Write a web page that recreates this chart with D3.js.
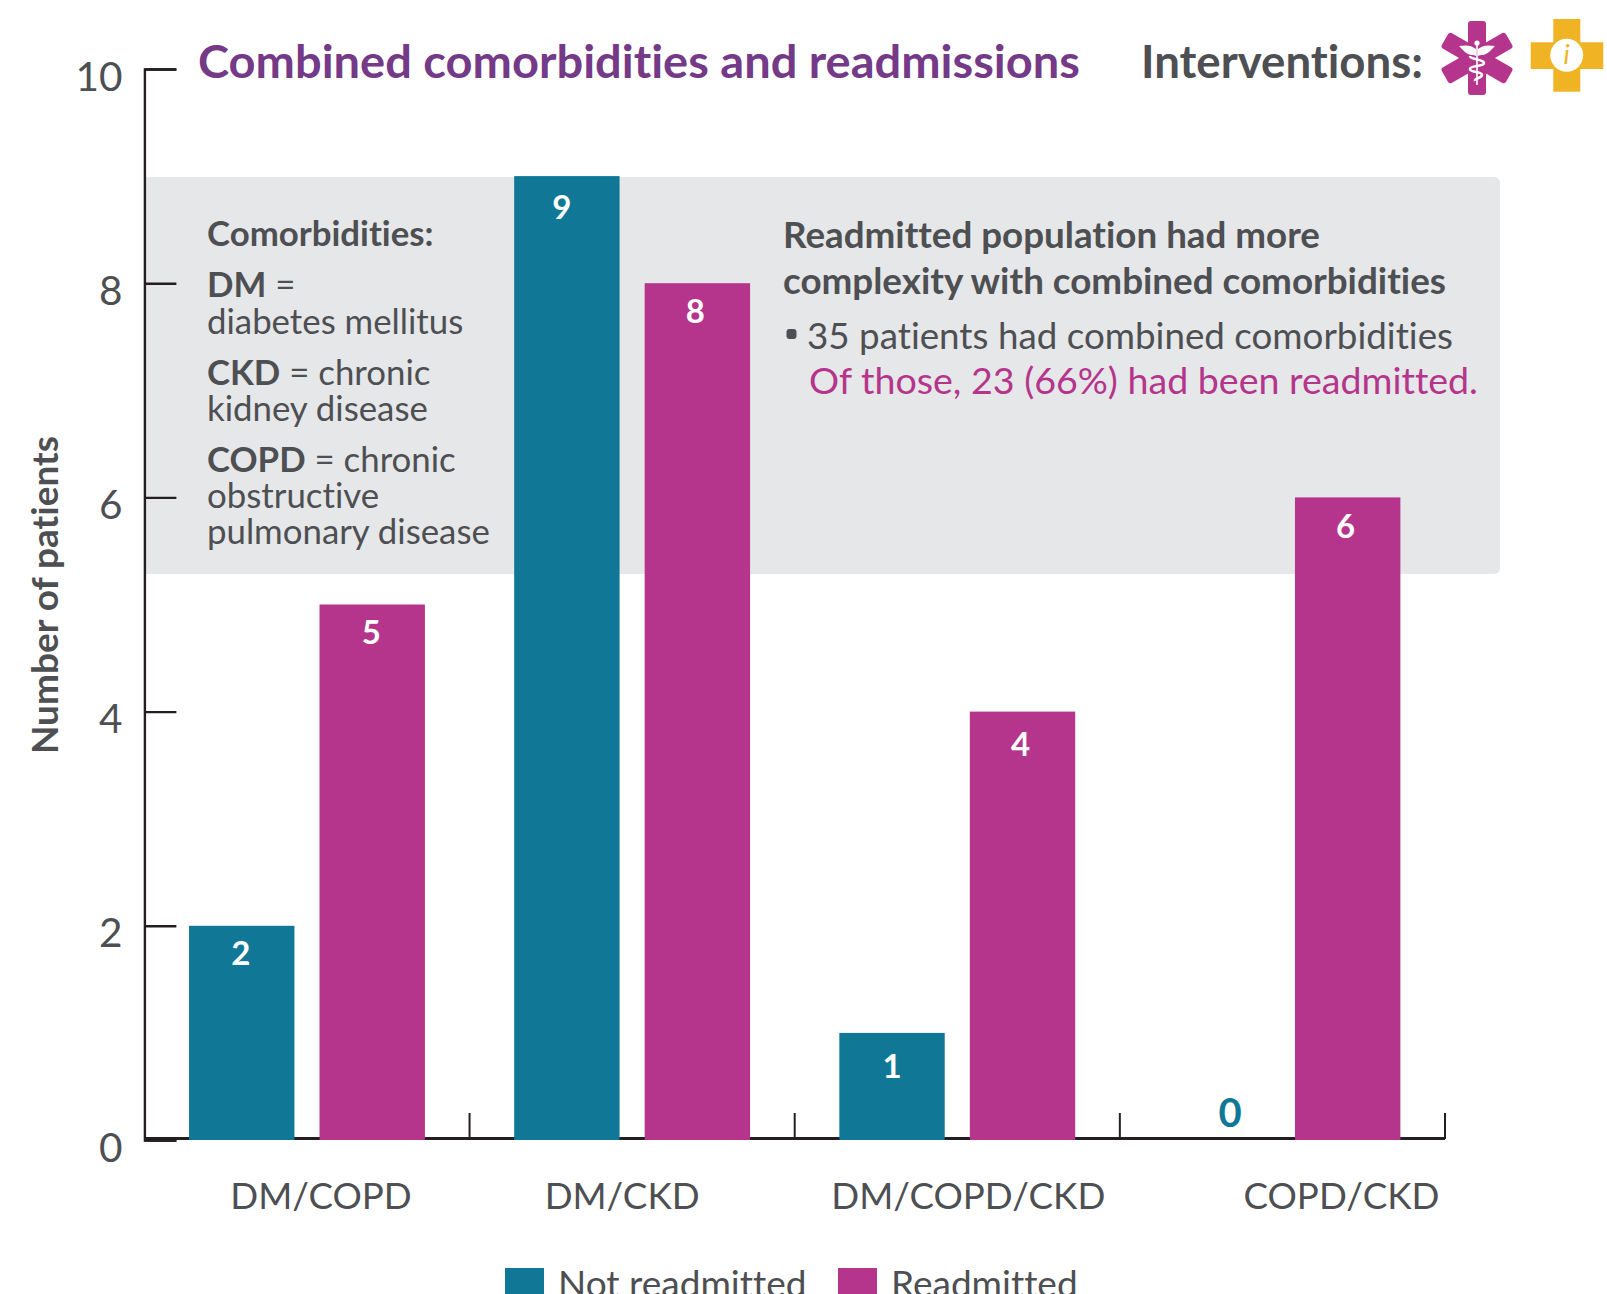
<!DOCTYPE html>
<html>
<head>
<meta charset="utf-8">
<title>Combined comorbidities and readmissions</title>
<script src="https://cdnjs.cloudflare.com/ajax/libs/d3/7.8.5/d3.min.js"></script>
<style>
  html, body { margin: 0; padding: 0; background: #fff; overflow: hidden; }
  svg { display: block; }
  text { font-family: "Lato", "Open Sans", sans-serif; font-variant-ligatures: none; }
  .tick text { fill: #4d4f53; }
</style>
</head>
<body>
<div id="chart"></div>
<script>
// Chart data
const categories = ['DM/COPD', 'DM/CKD', 'DM/COPD/CKD', 'COPD/CKD'];
const seriesNames = ['Not readmitted', 'Readmitted'];
const notReadmitted = [2, 9, 1, 0];
const readmitted = [5, 8, 4, 6];
const yTicks = [0, 2, 4, 6, 8, 10];

const teal = '#107896';
const magenta = '#b5358c';
const purple = '#743a87';
const gray = '#4d4f53';
const axisColor = '#231f20';
const panelColor = '#e6e7e8';

const width = 1607;
const height = 1294;

const svg = d3.select('#chart').append('svg')
  .attr('width', width)
  .attr('height', height);

const x = d3.scaleBand().domain(categories).range([144.4, 1445]);
const xSeries = d3.scaleBand().domain(seriesNames)
  .range([0, x.bandwidth()])
  .paddingInner(0.1923)
  .paddingOuter(0.342);
const y = d3.scaleLinear().domain([0, 10]).range([1140, 69]);
const color = d3.scaleOrdinal().domain(seriesNames).range([teal, magenta]);

// Grey panel sits behind everything, square on the left, rounded on the right
svg.append('path')
  .attr('fill', panelColor)
  .attr('d', 'M144,177H1494a6,6 0 0 1 6,6V568a6,6 0 0 1 -6,6H144Z');

// Y axis
const yAxis = svg.append('g')
  .attr('transform', 'translate(144.4,0)')
  .call(d3.axisLeft(y).tickValues(yTicks).tickSize(-32).tickPadding(22));
yAxis.selectAll('line').attr('stroke', axisColor).attr('stroke-width', 2.4);
yAxis.select('.domain').attr('stroke', axisColor).attr('stroke-width', 2.4);
yAxis.selectAll('text')
  .attr('font-size', 40.5)
  .attr('font-weight', 400)
  .attr('x', -22)
  .attr('dy', '0.72em')
  .attr('y', -8);

// X axis: baseline and separators go under the bars
svg.append('line')
  .attr('x1', 144.4).attr('x2', 1445)
  .attr('y1', 1138.5).attr('y2', 1138.5)
  .attr('stroke', axisColor).attr('stroke-width', 3);
const separators = svg.append('g');
x.domain().forEach(c => {
  separators.append('line')
    .attr('x1', x(c) + x.bandwidth()).attr('x2', x(c) + x.bandwidth())
    .attr('y1', 1113).attr('y2', 1139)
    .attr('stroke', axisColor).attr('stroke-width', 2);
});

// labels are not centred on their groups in the original
const labelNudge = [14, -10, 11, 59];
const xAxis = svg.append('g')
  .attr('transform', 'translate(0,1139)')
  .call(d3.axisBottom(x).tickSize(0).tickPadding(0));
xAxis.select('.domain').remove();
xAxis.selectAll('text')
  .attr('font-size', 36.7)
  .attr('font-weight', 400)
  .attr('dy', 0)
  .attr('y', 70)
  .attr('x', (d, i) => labelNudge[i]);

// Bars
const rows = categories.map((c, i) => ({
  category: c,
  values: [
    { name: seriesNames[0], value: notReadmitted[i], col: i, ser: 0 },
    { name: seriesNames[1], value: readmitted[i], col: i, ser: 1 }
  ]
}));

// small hand offsets for the value labels, the original ones are not regular
const valueDx = [[-1, -5, 0, 13], [-1, -2, -2, -2]];
const valueDy = [[0, 4, 6, 0], [0, 1, 5, 2]];

const groups = svg.append('g').selectAll('g')
  .data(rows)
  .join('g')
  .attr('transform', d => `translate(${x(d.category)},0)`);

groups.selectAll('rect')
  .data(d => d.values)
  .join('rect')
  .attr('x', d => xSeries(d.name))
  .attr('width', xSeries.bandwidth())
  .attr('y', d => y(d.value))
  .attr('height', d => y(0) - y(d.value))
  .attr('fill', d => color(d.name));

groups.selectAll('text')
  .data(d => d.values)
  .join('text')
  .attr('x', d => xSeries(d.name) + xSeries.bandwidth() / 2 + valueDx[d.ser][d.col])
  .attr('y', d => (d.value === 0 ? y(0) - 13 : y(d.value) + 39) + valueDy[d.ser][d.col])
  .attr('text-anchor', 'middle')
  .attr('font-size', d => d.value === 0 ? 40 : 33)
  .attr('font-weight', 700)
  .attr('fill', d => d.value === 0 ? teal : '#fff')
  .text(d => d.value);

// Y axis title
svg.append('text')
  .attr('transform', 'translate(58,595) rotate(-90)')
  .attr('text-anchor', 'middle')
  .attr('font-size', 37)
  .attr('font-weight', 700)
  .attr('fill', gray)
  .text('Number of patients');

// Headings
svg.append('text')
  .attr('x', 198).attr('y', 77.7)
  .attr('font-size', 46).attr('font-weight', 700).attr('fill', purple)
  .attr('textLength', 882).attr('lengthAdjust', 'spacingAndGlyphs')
  .text('Combined comorbidities and readmissions');
svg.append('text')
  .attr('x', 1141).attr('y', 77.7)
  .attr('font-size', 46).attr('font-weight', 700).attr('fill', gray)
  .attr('textLength', 282).attr('lengthAdjust', 'spacingAndGlyphs')
  .text('Interventions:');

// Left panel key
const keyLines = [
  [246, [['Comorbidities:', 700]]],
  [297, [['DM', 700], [' =', 400]]],
  [334, [['diabetes mellitus', 400]]],
  [384.5, [['CKD', 700], [' = chronic', 400]]],
  [421, [['kidney disease', 400]]],
  [471.5, [['COPD', 700], [' = chronic', 400]]],
  [508, [['obstructive', 400]]],
  [543.5, [['pulmonary disease', 400]]]
];
const key = svg.append('g');
keyLines.forEach(([yPos, runs]) => {
  const t = key.append('text')
    .attr('x', 207).attr('y', yPos)
    .attr('font-size', 34.8).attr('fill', gray)
    .attr('xml:space', 'preserve');
  runs.forEach(([s, w]) => t.append('tspan').attr('font-weight', w).text(s));
});

// Right panel note
const note = svg.append('g');
note.append('text').attr('x', 783).attr('y', 248)
  .attr('font-size', 36).attr('font-weight', 700).attr('fill', gray)
  .attr('textLength', 537).attr('lengthAdjust', 'spacingAndGlyphs')
  .text('Readmitted population had more');
note.append('text').attr('x', 783).attr('y', 294)
  .attr('font-size', 36).attr('font-weight', 700).attr('fill', gray)
  .attr('textLength', 663).attr('lengthAdjust', 'spacingAndGlyphs')
  .text('complexity with combined comorbidities');
note.append('rect').attr('x', 786.5).attr('y', 329).attr('width', 10).attr('height', 10)
  .attr('rx', 3).attr('fill', gray);
note.append('text').attr('x', 807).attr('y', 348.5)
  .attr('font-size', 37).attr('font-weight', 400).attr('fill', gray)
  .attr('textLength', 646).attr('lengthAdjust', 'spacingAndGlyphs')
  .text('35 patients had combined comorbidities');
note.append('text').attr('x', 809).attr('y', 394)
  .attr('font-size', 37).attr('font-weight', 400).attr('fill', magenta)
  .attr('textLength', 669).attr('lengthAdjust', 'spacingAndGlyphs')
  .text('Of those, 23 (66%) had been readmitted.');

// Icons: star of life with a simple caduceus
const star = svg.append('g').attr('transform', 'translate(1477,58)');
[0, 60, 120].forEach(a => {
  star.append('rect')
    .attr('x', -9).attr('y', -37).attr('width', 18).attr('height', 74)
    .attr('rx', 3).attr('fill', magenta)
    .attr('transform', `rotate(${a})`);
});
star.append('line').attr('y1', -16).attr('y2', 27)
  .attr('stroke', '#fff').attr('stroke-width', 1.6);
star.append('circle').attr('cy', -15).attr('r', 2.6).attr('fill', '#fff');
star.append('path').attr('fill', '#fff')
  .attr('d', 'M-1,-9C-6,-13 -11,-13 -18,-12C-14,-8 -11,-4 -6,-3C-4,-3 -2,-3 -1,-2Z M1,-9C6,-13 11,-13 18,-12C14,-8 11,-4 6,-3C4,-3 2,-3 1,-2Z');
star.append('path').attr('fill', 'none').attr('stroke', '#fff').attr('stroke-width', 2.6)
  .attr('d', 'M-7,-2C-7,2 7,1 7,5C7,9 -7,7 -7,11C-7,15 5,13 5,17C5,20 -3,20 -2,23');

// Icons: info cross
const cross = svg.append('g').attr('fill', '#f0b323');
cross.append('rect').attr('x', 1553.3).attr('y', 19).attr('width', 27).attr('height', 72.7);
cross.append('rect').attr('x', 1530.7).attr('y', 42.3).attr('width', 72.6).attr('height', 26.7);
svg.append('circle').attr('cx', 1566.7).attr('cy', 55.3).attr('r', 16.5).attr('fill', '#fff');
svg.append('text')
  .attr('x', 1566.7).attr('y', 64)
  .attr('text-anchor', 'middle')
  .attr('font-family', '"Liberation Serif", serif')
  .attr('font-style', 'italic').attr('font-weight', 400)
  .attr('font-size', 27).attr('fill', '#f0b323')
  .text('i');

// Legend, cut off by the bottom edge like the original
const legendX = [505, 838];
const legendTextX = [558, 891];
const legend = svg.append('g').selectAll('g')
  .data(seriesNames)
  .join('g');
legend.append('rect')
  .attr('x', (d, i) => legendX[i]).attr('y', 1268)
  .attr('width', 39).attr('height', 39)
  .attr('fill', d => color(d));
legend.append('text')
  .attr('x', (d, i) => legendTextX[i]).attr('y', 1297)
  .attr('font-size', 37).attr('font-weight', 400).attr('fill', gray)
  .text(d => d);
</script>
</body>
</html>
